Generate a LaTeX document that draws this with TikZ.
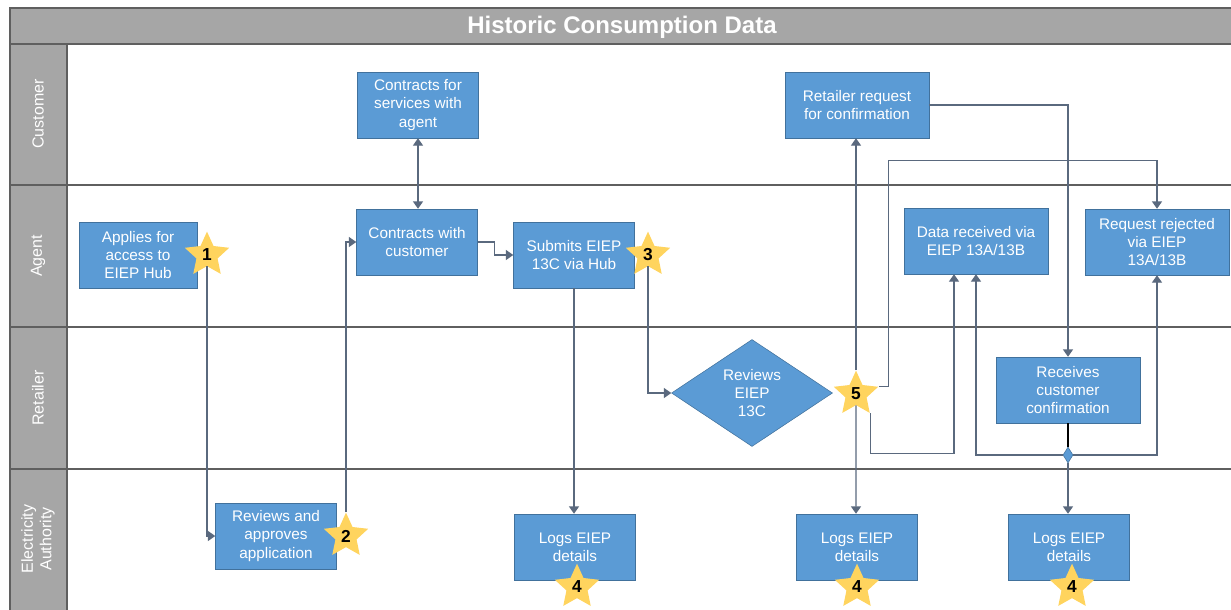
\documentclass[tikz,border=0pt]{standalone}
\usepackage{fontspec}
\setmainfont{Liberation Sans}
\usepackage{tikz}
\usetikzlibrary{calc,shapes.geometric,arrows.meta}

\definecolor{lanegray}{HTML}{A6A6A6}
\definecolor{frameline}{HTML}{5F5F5F}
\definecolor{boxblue}{HTML}{5B9BD5}
\definecolor{boxedge}{HTML}{41719C}
\definecolor{flowline}{HTML}{5A697E}
\definecolor{stargold}{HTML}{FFD45E}

\tikzset{
  procbox/.style={rectangle, draw=boxedge, fill=boxblue, text=white, align=center,
    font=\fontsize{11.5}{13.7}\selectfont, minimum width=90.75pt, minimum height=49.5pt, inner sep=1pt},
  widebox/.style={procbox, minimum width=108pt},
  numstar/.style={star, star points=5, star point ratio=2.1, fill=stargold, inner sep=0pt,
    minimum size=35pt, font=\fontsize{13}{13}\bfseries\selectfont},
  flow/.style={draw=flowline, line width=0.9pt, -{Triangle[width=7.5pt,length=5.5pt]}},
  lanelabel/.style={rotate=90, text=white, align=center, font=\fontsize{12}{14}\selectfont}
}

\begin{document}
\begin{tikzpicture}[x=0.75pt,y=-0.75pt]
    \useasboundingbox (0,0) rectangle (1231,610);
    \fill[white] (0,0) rectangle (1231,610);
    \fill[lanegray] (10,8) rectangle (1240,44);
    \fill[lanegray] (10,44) rectangle (67,620);
    \draw[frameline, line width=0.8pt] (10,620) -- (10,8) -- (1240,8);
    \draw[frameline, line width=0.8pt] (10,44) -- (1240,44);
    \draw[frameline, line width=0.8pt] (67,44) -- (67,620);
    \foreach \y in {185,327,469}
        \draw[frameline, line width=0.8pt] (10,\y) -- (1240,\y);
    \node[text=white, font=\fontsize{18}{20}\bfseries\selectfont] (title) at (622,27) {Historic Consumption Data};
    \foreach \y/\lbl [count=\i] in {114/Customer, 256/Agent, 398/Retailer, 539/{Electricity\\Authority}}
        \node[lanelabel] (lane\i) at (38,\y) {\lbl};

    \node[procbox, minimum width=88.5pt] (applies) at (138,255) {Applies for\\access to\\EIEP Hub};
    \node[procbox] (svcagent) at (418,105) {Contracts for\\services with\\agent};
    \node[procbox] (contractcust) at (417,242) {Contracts with\\customer};
    \node[procbox] (submits) at (574,255) {Submits EIEP\\13C via Hub};
    \node[diamond, aspect=1.5, draw=boxedge, fill=boxblue, text=white, align=center, inner sep=0pt,
        minimum width=120.75pt, minimum height=80.25pt, font=\fontsize{11.5}{13.7}\selectfont] (reviews) at (752,393) {Reviews\\EIEP\\13C};
    \node[procbox] (reviewapp) at (276,536) {Reviews and\\approves\\application};
    \node[procbox] (logsa) at (575,547) {Logs EIEP\\details};
    \node[procbox] (logsb) at (857,547) {Logs EIEP\\details};
    \node[procbox] (logsc) at (1069,547) {Logs EIEP\\details};
    \node[widebox] (retreq) at (857,105) {Retailer request\\for confirmation};
    \node[widebox] (datarecv) at (976,241) {Data received via\\EIEP 13A/13B};
    \node[widebox] (rejected) at (1157,242) {Request rejected\\via EIEP\\13A/13B};
    \node[widebox] (receives) at (1068,390) {Receives\\customer\\confirmation};
    \node[diamond, draw=boxedge, fill=boxblue, inner sep=0pt, minimum width=7.5pt, minimum height=12pt] (junction) at (1068,455) {};

    \node[numstar] (s1) at (207,255) {1};
    \node[numstar] (s2) at (346,536) {2};
    \node[numstar] (s3) at (648,255) {3};
    \node[numstar] (s5) at (856,394) {5};
    \node[numstar] (s4a) at (577,587) {4};
    \node[numstar] (s4b) at (857,587) {4};
    \node[numstar] (s4c) at (1072,587) {4};

    \draw[flow] (s1) |- (reviewapp.west);
    \draw[flow] (s2) |- (contractcust.west);
    \draw[flow, {Triangle[width=7.5pt,length=5.5pt]}-{Triangle[width=7.5pt,length=5.5pt]}] (svcagent.south) -- (svcagent.south |- contractcust.north);
    \draw[flow] (contractcust.east) -- ++(17,0) |- (submits.west);
    \draw[flow] (submits.south) -- (submits.south |- logsa.north);
    \draw[flow] (s3) |- (reviews.west);
    \draw[flow] (s5.north) -- (s5.north |- retreq.south);
    \draw[flow] (s5) -- (s5 |- logsb.north);
    \draw[flow] (s5.outer point 5) -- ++(10,0) |- ($(rejected.north)+(0,-48)$) -- (rejected.north);
    \draw[flow] (s5.outer point 4) -- ++(0,40) -| ($(datarecv.south)+(-22,0)$);
    \draw[flow] (retreq.east) -| (receives.north);
    \draw[black, line width=0.8pt] (receives.south) -- (junction.north);
    \draw[flow] (junction.west) -| (datarecv.south);
    \draw[flow] (junction.east) -| (rejected.south);
    \draw[flow] (junction.south) -- (junction.south |- logsc.north);
\end{tikzpicture}
\end{document}
